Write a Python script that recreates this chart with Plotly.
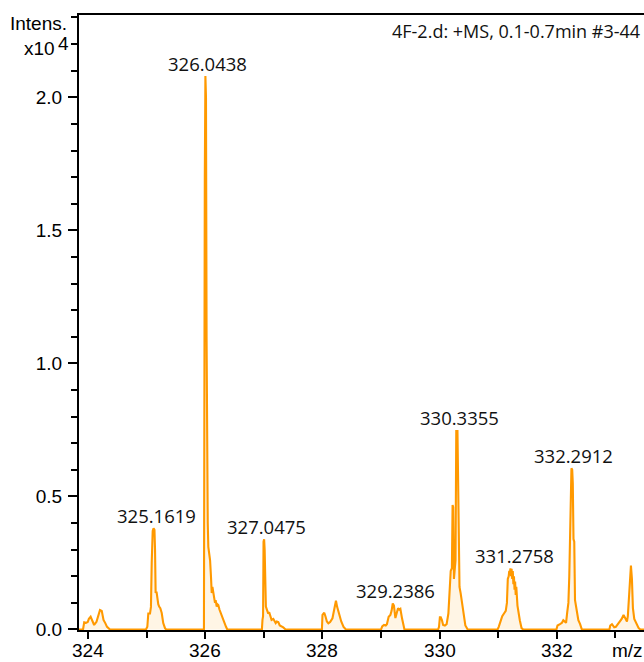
import plotly.graph_objects as go

# ---------------- data (m/z, intensity in units of 1e4) ----------------
c324_mz = [323.91, 323.93, 323.96, 323.99, 324.01, 324.04, 324.07, 324.10, 324.14, 324.17,
           324.20, 324.23, 324.26, 324.29, 324.32, 324.37]
c324_in = [0, 0.027, 0.025, 0.028, 0.04, 0.048, 0.035, 0.017, 0.029, 0.05,
           0.073, 0.07, 0.036, 0.024, 0.01, 0]

c325_mz = [324.985, 325.008, 325.025, 325.054, 325.07, 325.083, 325.10, 325.115, 325.13, 325.14,
           325.15, 325.165, 325.178, 325.195, 325.21, 325.23, 325.254, 325.28, 325.31, 325.33]
c325_in = [0, 0.01, 0.06, 0.06, 0.085, 0.25, 0.37, 0.38, 0.375, 0.30,
           0.137, 0.142, 0.11, 0.095, 0.086, 0.08, 0.062, 0.024, 0.005, 0]

c326_mz = [325.975, 325.98, 325.99, 326.0, 326.01, 326.02, 326.03, 326.04, 326.05, 326.065,
           326.08, 326.095, 326.108, 326.12, 326.135, 326.15, 326.164, 326.175, 326.193, 326.205,
           326.22, 326.24, 326.26, 326.28, 326.306, 326.33, 326.352, 326.374]
c326_in = [0, 0.9, 1.7, 2.08, 2.0, 1.1, 0.56, 0.4, 0.31, 0.29,
           0.26, 0.2, 0.137, 0.16, 0.142, 0.12, 0.1, 0.11, 0.086, 0.095,
           0.092, 0.075, 0.062, 0.05, 0.036, 0.02, 0.01, 0]

c327_mz = [326.965, 326.975, 326.985, 326.993, 327.003, 327.012, 327.022, 327.033, 327.05, 327.074,
           327.09, 327.10, 327.115, 327.13, 327.16, 327.18, 327.2, 327.22, 327.245, 327.27,
           327.30, 327.33, 327.37]
c327_in = [0, 0.036, 0.05, 0.33, 0.339, 0.30, 0.2, 0.086, 0.075, 0.06,
           0.065, 0.055, 0.05, 0.036, 0.04, 0.03, 0.024, 0.03, 0.028, 0.015,
           0.012, 0.008, 0]

c328_mz = [327.99, 328.0, 328.03, 328.05, 328.075, 328.1, 328.13, 328.17, 328.2, 328.23,
           328.25, 328.27, 328.29, 328.32, 328.36, 328.40]
c328_in = [0, 0.055, 0.063, 0.05, 0.03, 0.023, 0.028, 0.042, 0.073, 0.108,
           0.085, 0.067, 0.05, 0.03, 0.01, 0]

c329_mz = [329.0, 329.02, 329.05, 329.08, 329.10, 329.13, 329.16, 329.18, 329.2, 329.22,
           329.245, 329.265, 329.29, 329.31, 329.33, 329.36, 329.4]
c329_in = [0, 0.012, 0.017, 0.015, 0.02, 0.048, 0.055, 0.07, 0.098, 0.09,
           0.043, 0.06, 0.08, 0.075, 0.078, 0.04, 0]

c330_mz = [329.975, 329.99, 330.005, 330.02, 330.04, 330.06, 330.09, 330.12, 330.15, 330.17,
           330.19, 330.21, 330.222, 330.232, 330.245, 330.258, 330.272, 330.285, 330.295, 330.305,
           330.318, 330.33, 330.34, 330.36, 330.38, 330.41, 330.44, 330.48]
c330_in = [0, 0.01, 0.046, 0.046, 0.035, 0.017, 0.015, 0.02, 0.06, 0.15,
           0.22, 0.23, 0.468, 0.46, 0.19, 0.25, 0.26, 0.75, 0.68, 0.75,
           0.52, 0.5, 0.16, 0.136, 0.1, 0.06, 0.015, 0]

c331_mz = [330.99, 331.01, 331.04, 331.07, 331.1, 331.13, 331.15, 331.165, 331.18, 331.19,
           331.2, 331.21, 331.22, 331.23, 331.24, 331.25, 331.26, 331.27, 331.28, 331.29,
           331.3, 331.31, 331.33, 331.35, 331.37, 331.4, 331.43]
c331_in = [0, 0.01, 0.035, 0.05, 0.06, 0.07, 0.1, 0.19, 0.2, 0.22,
           0.21, 0.23, 0.2, 0.228, 0.19, 0.22, 0.17, 0.2, 0.15, 0.18,
           0.13, 0.16, 0.09, 0.05, 0.035, 0.005, 0]

c332_mz = [331.995, 332.014, 332.056, 332.09, 332.113, 332.14, 332.16, 332.18, 332.2, 332.215,
           332.227, 332.24, 332.252, 332.265, 332.275, 332.287, 332.3, 332.313, 332.33, 332.35,
           332.37, 332.4, 332.43]
c332_in = [0, 0.015, 0.02, 0.025, 0.035, 0.028, 0.025, 0.065, 0.1, 0.2,
           0.37, 0.5, 0.606, 0.6, 0.55, 0.34, 0.33, 0.11, 0.085, 0.06,
           0.035, 0.02, 0]

c333_mz = [332.9, 332.915, 332.944, 332.965, 332.983, 333.01, 333.04, 333.065, 333.085, 333.11,
           333.142, 333.17, 333.2, 333.215, 333.227, 333.244, 333.256, 333.268, 333.285, 333.302,
           333.325, 333.36, 333.4, 333.43]
c333_in = [0, 0.015, 0.02, 0.012, 0.008, 0.01, 0.02, 0.025, 0.03, 0.04,
           0.055, 0.045, 0.03, 0.05, 0.085, 0.16, 0.2, 0.24, 0.19, 0.08,
           0.04, 0.02, 0.005, 0]

edge_mz = [323.8412, 333.4912]

peak_labels = ["325.1619", "326.0438", "327.0475", "329.2386", "330.3355", "331.2758", "332.2912"]
peak_mz = [325.1619, 326.0438, 327.0475, 329.2386, 330.3355, 331.2758, 332.2912]
peak_in = [0.38, 2.08, 0.339, 0.098, 0.75, 0.23, 0.606]

x_ticks = [324, 326, 328, 330, 332]
y_ticks = [0.0, 0.5, 1.0, 1.5, 2.0]

header_text = "4F-2.d: +MS, 0.1-0.7min #3-44"

# ---------------- build ----------------
clusters = [(c324_mz, c324_in), (c325_mz, c325_in), (c326_mz, c326_in), (c327_mz, c327_in),
            (c328_mz, c328_in), (c329_mz, c329_in), (c330_mz, c330_in), (c331_mz, c331_in),
            (c332_mz, c332_in), (c333_mz, c333_in)]
mz = [edge_mz[0]]
inten = [0]
for cm, ci in clusters:
    mz += cm
    inten += ci
mz.append(edge_mz[1])
inten.append(0)

W, H = 644, 662
ML, MR, MT, MB = 79, 0, 15, 32
PW, PH = W - ML - MR, H - MT - MB


def px(x):
    return (x - ML) / PW


def py(y):
    return (H - MB - y) / PH


ORANGE = "#FF9900"
ARIAL = "Liberation Sans, Arial, sans-serif"
LBL = "Open Sans, Noto Sans, sans-serif"

fig = go.Figure()
fig.add_trace(go.Scatter(
    x=mz, y=inten, mode="lines",
    line=dict(color=ORANGE, width=2.1),
    fill="tozeroy", fillcolor="rgba(255,153,0,0.10)",
    hoverinfo="skip", showlegend=False,
))

annotations = []
for t, xm, yi in zip(peak_labels, peak_mz, peak_in):
    annotations.append(dict(x=xm, y=yi, xref="x", yref="y", text=t, showarrow=False,
                            xanchor="center", yanchor="bottom", yshift=-2,
                            font=dict(family=LBL, size=18.5, color="#111111")))

# x tick labels (placed at the axis' own tick values)
for v in x_ticks:
    annotations.append(dict(x=v, y=py(650.5), xref="x", yref="paper", text=str(v),
                            showarrow=False, xanchor="center", yanchor="middle",
                            font=dict(family=ARIAL, size=19, color="black")))

annotations += [
    dict(x=px(69), y=py(23), xref="paper", yref="paper", text="Intens.", showarrow=False,
         xanchor="right", yanchor="middle", font=dict(family=ARIAL, size=19, color="black")),
    dict(x=px(57), y=py(48), xref="paper", yref="paper", text="x10", showarrow=False,
         xanchor="right", yanchor="middle", font=dict(family=ARIAL, size=19, color="black")),
    dict(x=px(56), y=py(43), xref="paper", yref="paper", text="4", showarrow=False,
         xanchor="left", yanchor="middle", font=dict(family=ARIAL, size=19, color="black")),
    dict(x=px(642), y=py(31), xref="paper", yref="paper", text=header_text, showarrow=False,
         xanchor="right", yanchor="middle", font=dict(family=LBL, size=18, color="#111111")),
    dict(x=px(627), y=py(650.5), xref="paper", yref="paper", text="m/z", showarrow=False,
         xanchor="center", yanchor="middle", font=dict(family=ARIAL, size=19, color="black")),
]

fig.update_layout(
    template="none",
    width=W, height=H,
    margin=dict(l=ML, r=MR, t=MT, b=MB, pad=0),
    paper_bgcolor="white", plot_bgcolor="white",
    showlegend=False,
    annotations=annotations,
    xaxis=dict(
        automargin=False,
        range=[323.8412, 333.4912], showgrid=False, zeroline=False,
        showline=True, linecolor="black", linewidth=2, mirror=True,
        layer="below traces",
        tickmode="array", tickvals=x_ticks, showticklabels=False,
        ticks="outside", ticklen=7, tickwidth=1.5, tickcolor="black",
        minor=dict(dtick=1, tick0=324, ticks="outside", ticklen=6, tickwidth=1.5, tickcolor="black"),
    ),
    yaxis=dict(
        automargin=False,
        range=[-0.0019, 2.3093], showgrid=False, zeroline=False,
        showline=True, linecolor="black", linewidth=2,
        layer="below traces",
        tickmode="array", tickvals=y_ticks, ticktext=[f"{v:.1f}" for v in y_ticks],
        ticks="outside", ticklen=9, tickwidth=1.5, tickcolor="black",
        ticklabelstandoff=2,
        minor=dict(dtick=0.1, tick0=0, ticks="outside", ticklen=6, tickwidth=1.5, tickcolor="black"),
        tickfont=dict(family=ARIAL, size=19, color="black"),
    ),
)

fig.write_html("out.html")
